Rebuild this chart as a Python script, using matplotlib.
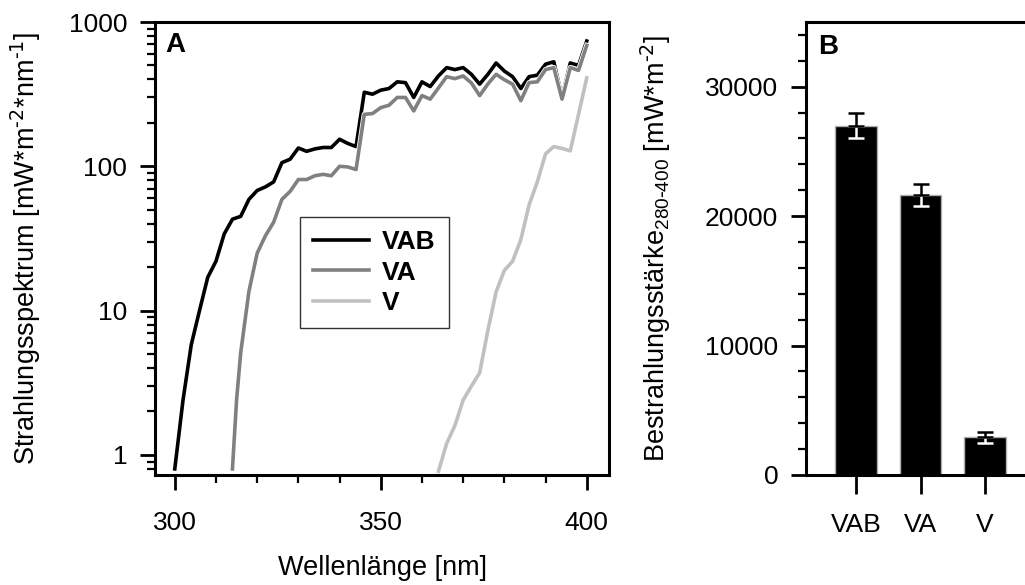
import numpy as np
import matplotlib
matplotlib.use("Agg")
import matplotlib.pyplot as plt
import matplotlib.patheffects as pe
from matplotlib.ticker import LogLocator, MultipleLocator, NullFormatter, FixedLocator

plt.rcParams['font.family'] = ['Liberation Sans', 'DejaVu Sans']
plt.rcParams['mathtext.default'] = 'regular'

# spectra (panel A)
wl_vab = [300, 302, 304, 306, 308, 310, 312, 314, 316, 318, 320, 322, 324, 326, 328,
          330, 332, 334, 336, 338, 340, 342, 344, 346, 348, 350, 352, 354, 356, 358,
          360, 362, 364, 366, 368, 370, 372, 374, 376, 378, 380, 382, 384, 386, 388,
          390, 392, 394, 396, 398, 400]
vab = [0.8, 2.4, 5.8, 10, 17, 22, 34, 43, 45, 59, 68, 72, 78, 106, 112,
       134, 127, 132, 135, 135, 154, 144, 137, 326, 316, 337, 346, 385, 380, 300,
       385, 357, 423, 483, 468, 483, 434, 371, 434, 520, 457, 418, 346, 418, 428,
       510, 530, 300, 520, 500, 738]

wl_va = [314, 315, 316, 318, 320, 322, 324, 326, 328, 330, 332, 334, 336, 338, 340,
         342, 344, 346, 348, 350, 352, 354, 356, 358, 360, 362, 364, 366, 368, 370,
         372, 374, 376, 378, 380, 382, 384, 386, 388, 390, 392, 394, 396, 398, 400]
va = [0.8, 2.4, 5.1, 13.6, 25, 33, 41, 59, 67, 81, 81, 86, 88, 86, 100,
      99, 95, 229, 232, 255, 265, 300, 300, 242, 309, 292, 349, 418, 405, 423,
      378, 309, 372, 434, 398, 371, 285, 380, 385, 468, 483, 292, 483, 462, 688]

wl_v = [364, 366, 368, 370, 372, 374, 376, 378, 380, 382, 384, 386, 388, 390, 392,
        394, 396, 400]
v = [0.77, 1.2, 1.6, 2.4, 3.0, 3.7, 7.3, 13.5, 19, 22, 31, 54, 78, 122, 137,
     133, 128, 410]

# irradiance 280-400 nm (panel B)
groups = ['VAB', 'VA', 'V']
irr = [27000, 21600, 2900]
irr_err = [950, 850, 400]

W, H = 1025, 585
fig = plt.figure(figsize=(W / 100, H / 100), dpi=100)

axA = fig.add_axes([155 / W, (H - 475) / H, 454 / W, 453 / H])
axB = fig.add_axes([806 / W, (H - 475) / H, 229 / W, 453 / H])

fs = 19
lfs = 19.5
halo = [pe.Stroke(linewidth=3.8, foreground='white'), pe.Normal()]

axA.plot(wl_vab, vab, color='black', lw=2.6, label='VAB', path_effects=halo)
axA.plot(wl_va, va, color='#808080', lw=2.6, label='VA', path_effects=halo)
axA.plot(wl_v, v, color='#c0c0c0', lw=2.6, label='V', path_effects=halo)

axA.set_yscale('log')
axA.set_xlim(295.2, 405.4)
axA.set_ylim(0.726, 1000)
axA.xaxis.set_major_locator(MultipleLocator(50))
axA.xaxis.set_minor_locator(MultipleLocator(10))
axA.yaxis.set_major_locator(FixedLocator([1, 10, 100, 1000]))
axA.yaxis.set_major_formatter(plt.FuncFormatter(lambda y, p: f"{y:g}"))
axA.yaxis.set_minor_locator(LogLocator(base=10, subs=np.arange(2, 10)))
axA.yaxis.set_minor_formatter(NullFormatter())

axA.set_xlabel('Wellenlänge [nm]', fontsize=lfs, labelpad=14)
axA.set_ylabel('Strahlungsspektrum [mW*m$^{\\text{-2}}$*nm$^{\\text{-1}}$]', fontsize=lfs)
axA.yaxis.set_label_coords(-0.247, 0.5)
axA.text(0.022, 0.978, 'A', transform=axA.transAxes, fontsize=20,
         weight='bold', va='top', ha='left')

leg = axA.legend(loc='upper left', bbox_to_anchor=((300 - 155) / 454, (475 - 217) / 453),
                 prop={'weight': 'bold', 'size': fs}, frameon=True,
                 fancybox=False, handlelength=2.1, labelspacing=0.24,
                 borderpad=0.5, handletextpad=0.5, borderaxespad=0)
leg.get_frame().set_edgecolor('black')
leg.get_frame().set_linewidth(1.0)

# panel B bars
x = np.arange(len(groups))
axB.bar(x, irr, width=0.65, color='black', edgecolor='#b0b0b0', linewidth=1.0, zorder=2)
axB.errorbar(x, irr, yerr=[irr_err, [0] * 3], fmt='none', ecolor='white',
             elinewidth=1.8, capsize=6, capthick=1.8, zorder=3)
axB.errorbar(x, irr, yerr=[[0] * 3, irr_err], fmt='none', ecolor='black',
             elinewidth=1.8, capsize=6, capthick=1.8, zorder=4)
axB.set_xlim(-0.775, 2.775)
axB.set_ylim(0, 35000)
axB.set_xticks(x)
axB.set_xticklabels(groups)
axB.yaxis.set_major_locator(MultipleLocator(10000))
axB.yaxis.set_minor_locator(MultipleLocator(2000))
axB.set_ylabel('Bestrahlungsstärke$_{280\\text{-}400}$ [mW*m$^{\\text{-2}}$]', fontsize=lfs)
axB.yaxis.set_label_coords(-0.58, 0.5)
axB.text(0.052, 0.974, 'B', transform=axB.transAxes, fontsize=20,
         weight='bold', va='top', ha='left')

for ax in (axA, axB):
    for s in ax.spines.values():
        s.set_linewidth(2.2)
    ax.tick_params(which='major', direction='out', length=11, width=2.0,
                   labelsize=fs, pad=9, top=False, right=False)
    ax.tick_params(which='minor', direction='out', length=6, width=1.6,
                   top=False, right=False)
    ax.tick_params(axis='x', which='major', pad=15)
axB.tick_params(axis='x', which='minor', bottom=False)
axB.tick_params(axis='x', which='major', length=14, pad=13)

fig.savefig('out.png', dpi=100)
